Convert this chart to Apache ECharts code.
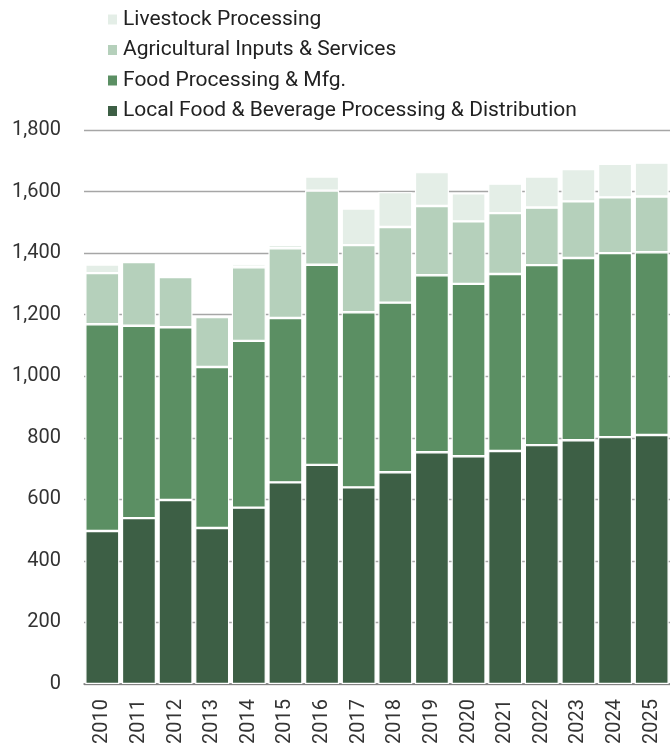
<!DOCTYPE html>
<html>
<head>
<meta charset="utf-8">
<script src="https://cdn.jsdelivr.net/npm/echarts@6/dist/echarts.min.js"></script>
<style>
  html, body { margin: 0; padding: 0; background: #ffffff; }
  #chart { width: 670px; height: 749px; }
</style>
</head>
<body>
<div id="chart"></div>
<script>
// Years on the category axis
const years = ['2010','2011','2012','2013','2014','2015','2016','2017',
               '2018','2019','2020','2021','2022','2023','2024','2025'];

// Stacked segments, bottom to top
const localFoodBev = [497, 539, 598, 507, 573, 655, 712, 639, 688, 753, 740, 757, 776, 792, 802, 809];
const foodProcessing = [672, 625, 561, 523, 542, 534, 650, 569, 551, 575, 560, 575, 585, 592, 598, 594];
const agInputs = [166, 207, 163, 162, 239, 227, 241, 218, 246, 225, 203, 198, 187, 184, 181, 181];
const livestock = [28, 8, 7, 2, 10, 11, 46, 119, 113, 110, 91, 96, 101, 105, 109, 110];

const seriesNames = [
  'Local Food & Beverage Processing & Distribution',
  'Food Processing & Mfg.',
  'Agricultural Inputs & Services',
  'Livestock Processing'
];
const seriesColors = ['#3d5f45', '#5b8f63', '#b5d0bb', '#e4eee7'];
const seriesData = [localFoodBev, foodProcessing, agInputs, livestock];

const chart = echarts.init(document.getElementById('chart'), null, { renderer: 'canvas' });

const option = {
  backgroundColor: '#ffffff',
  animation: false,
  textStyle: { fontFamily: 'Roboto' },
  legend: {
    orient: 'vertical',
    left: 101,
    top: 4,
    itemWidth: 11,
    itemHeight: 12,
    itemGap: 9.5,
    icon: 'rect',
    data: seriesNames.slice().reverse(),
    textStyle: { fontFamily: 'Roboto', fontSize: 21, color: '#222222', lineHeight: 20 }
  },
  grid: {
    left: 84,
    top: 130,
    width: 593,
    bottom: 65,
    containLabel: false
  },
  xAxis: {
    type: 'category',
    data: years,
    axisLine: { show: true, lineStyle: { color: '#777777', width: 1.5 } },
    axisTick: { show: false },
    axisLabel: {
      rotate: 90,
      margin: 15,
      fontFamily: 'Roboto',
      fontSize: 20,
      color: '#333333',
      interval: 0
    }
  },
  yAxis: {
    type: 'value',
    min: 0,
    max: 1800,
    interval: 200,
    axisLine: { show: false },
    axisTick: { show: false },
    splitLine: { show: true, lineStyle: { color: '#a6a6a6', width: 1.3 } },
    axisLabel: {
      margin: 23,
      fontFamily: 'Roboto',
      fontSize: 20,
      color: '#333333',
      formatter: v => v.toLocaleString('en-US')
    }
  },
  series: seriesNames.map((name, i) => ({
    name: name,
    type: 'bar',
    stack: 'total',
    data: seriesData[i],
    barWidth: 34,
    itemStyle: {
      color: seriesColors[i],
      borderColor: '#ffffff',
      borderWidth: 1.2
    }
  }))
};

chart.setOption(option);
</script>
</body>
</html>
